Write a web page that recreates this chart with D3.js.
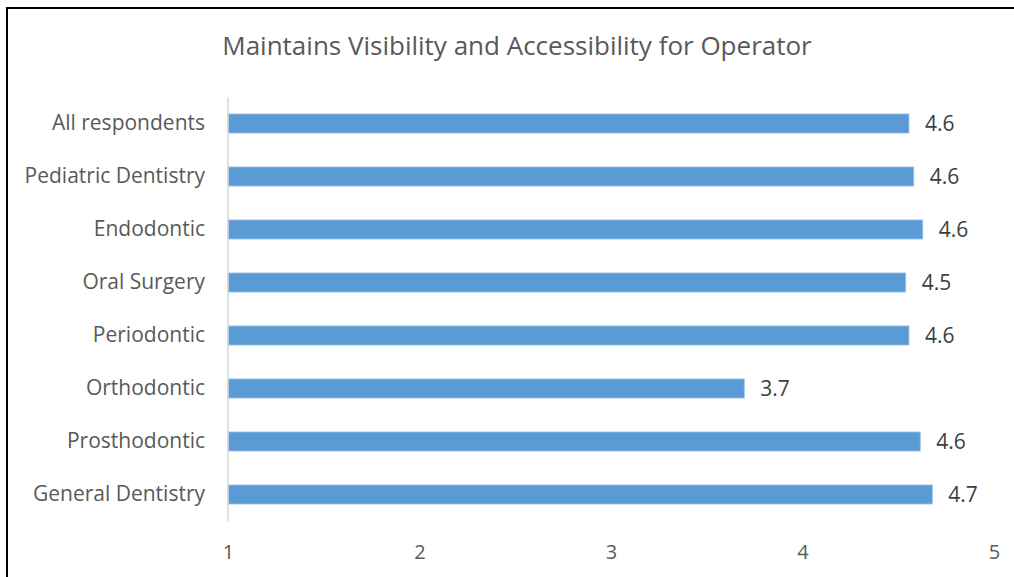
<!DOCTYPE html>
<html>
<head>
<meta charset="utf-8">
<script src="https://cdn.jsdelivr.net/npm/d3@7"></script>
<style>
  html, body { margin: 0; padding: 0; background: #fff; }
  svg { display: block; }
</style>
</head>
<body>
<svg id="chart" width="1014" height="577"></svg>
<script>
const title = "Maintains Visibility and Accessibility for Operator";
const categories = ["All respondents", "Pediatric Dentistry", "Endodontic", "Oral Surgery",
  "Periodontic", "Orthodontic", "Prosthodontic", "General Dentistry"];
const values = [4.556, 4.581, 4.628, 4.539, 4.556, 3.696, 4.615, 4.678];
const xTicks = [1, 2, 3, 4, 5];

const svg = d3.select("#chart");
const font = "'Open Sans', sans-serif";

// frame
svg.append("rect")
  .attr("x", 7).attr("y", 8).attr("width", 1100).attr("height", 700)
  .attr("fill", "none").attr("stroke", "#000").attr("stroke-width", 2);

const x = d3.scaleLinear().domain([1, 5]).range([228, 994]);
const y = d3.scaleBand().domain(categories).range([97, 521])
  .paddingInner(0.64).paddingOuter(0.32);

// title
svg.append("text")
  .attr("x", 517).attr("y", 55)
  .attr("text-anchor", "middle")
  .attr("font-family", font).attr("font-size", 26)
  .attr("fill", "#595959")
  .text(title);

// bars
svg.append("g").selectAll("rect")
  .data(values)
  .join("rect")
  .attr("x", x(1))
  .attr("y", (d, i) => y(categories[i]))
  .attr("width", d => x(d) - x(1))
  .attr("height", y.bandwidth())
  .attr("fill", "#5b9bd5")
  .attr("stroke", "#9dc3e6").attr("stroke-width", 0.8);

// vertical axis line
svg.append("line")
  .attr("x1", x(1)).attr("x2", x(1))
  .attr("y1", y.range()[0]).attr("y2", y.range()[1])
  .attr("stroke", "#d9d9d9").attr("stroke-width", 1.5);

// category axis labels
const yAxis = d3.axisLeft(y).tickSize(0).tickPadding(23);
const gy = svg.append("g").attr("transform", `translate(${x(1)},0)`).call(yAxis);
gy.select(".domain").remove();
gy.selectAll("text")
  .attr("font-family", font).attr("font-size", 21).attr("fill", "#595959");

// x axis labels
const xAxis = d3.axisBottom(x).tickValues(xTicks).tickSize(0).tickPadding(0)
  .tickFormat(d3.format("d"));
const gx = svg.append("g").attr("transform", `translate(0,545)`).call(xAxis);
gx.select(".domain").remove();
gx.selectAll("text")
  .attr("font-family", font).attr("font-size", 20).attr("fill", "#595959");

// value labels
svg.append("g").selectAll("text")
  .data(values)
  .join("text")
  .attr("x", d => x(d) + 16)
  .attr("y", (d, i) => y(categories[i]) + y.bandwidth() / 2)
  .attr("dy", "0.36em")
  .attr("font-family", font).attr("font-size", 21)
  .attr("fill", "#404040")
  .text(d => d3.format(".1f")(d));
</script>
</body>
</html>
